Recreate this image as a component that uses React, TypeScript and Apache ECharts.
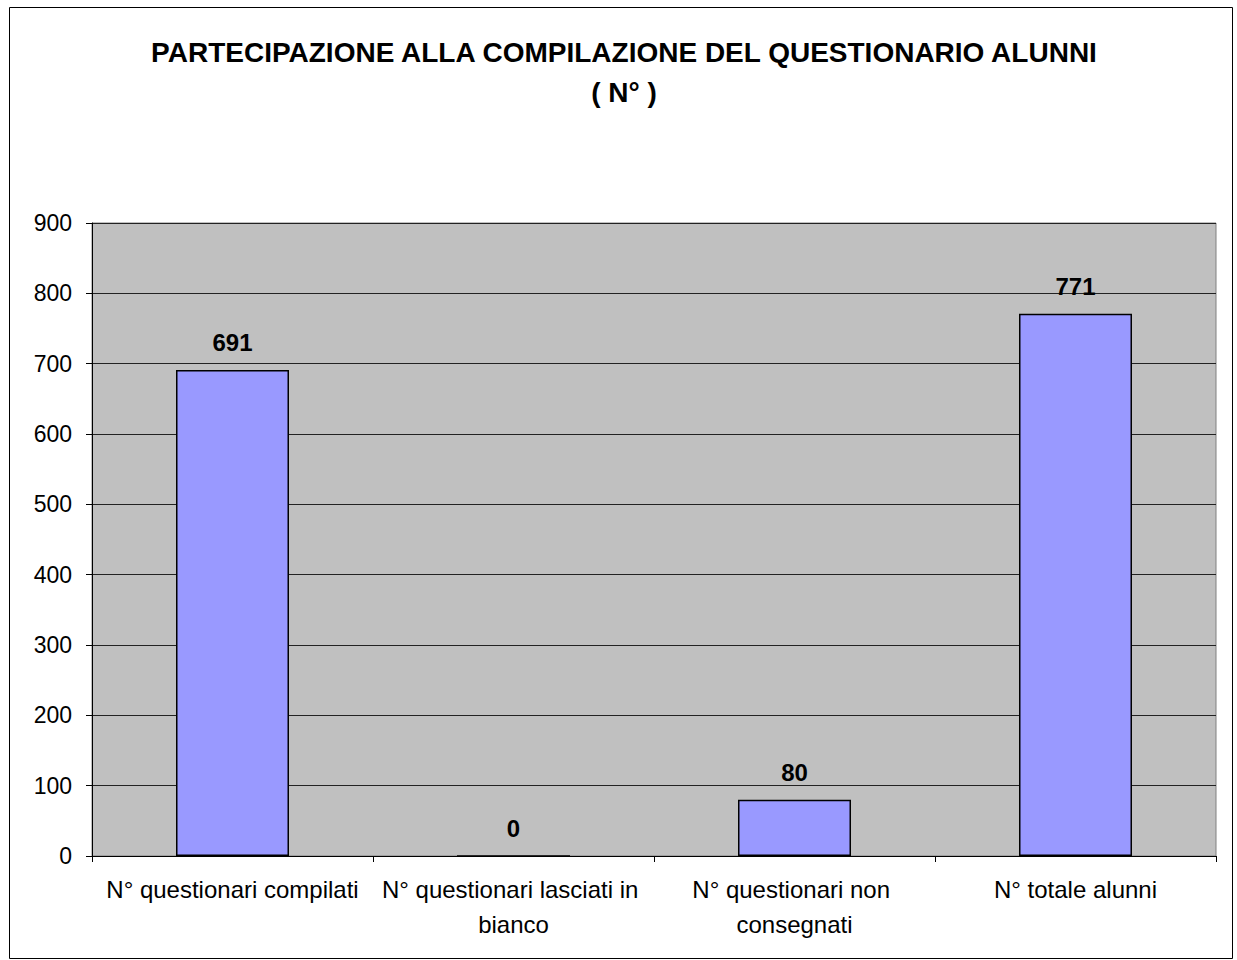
import React, { useEffect, useRef } from "react";
import * as echarts from "echarts";

const titleLines = ["PARTECIPAZIONE ALLA COMPILAZIONE DEL QUESTIONARIO ALUNNI", "( N° )"];
const categories = [
  "N° questionari compilati",
  "N° questionari lasciati in bianco",
  "N° questionari non consegnati",
  "N° totale alunni",
];
const values = [691, 0, 80, 771];
const yMin = 0;
const yMax = 900;
const yStep = 100;

const FONT = "'Liberation Sans', Arial, sans-serif";

export default function App() {
  const ref = useRef<HTMLDivElement>(null);
  useEffect(() => {
    if (!ref.current) return;
    const chart = echarts.init(ref.current, undefined, { renderer: "svg" });
    chart.setOption({
      animation: false,
      backgroundColor: "#ffffff",
      textStyle: { fontFamily: FONT },
      title: {
        text: titleLines.join("\n"),
        left: 619,
        top: 27,
        textAlign: "center",
        textStyle: {
          fontFamily: FONT,
          fontWeight: "bold",
          fontSize: 28,
          lineHeight: 40,
          color: "#000",
        },
      },
      graphic: [
        {
          type: "rect",
          shape: { x: 9.5, y: 7.5, width: 1223, height: 951 },
          style: { fill: "none", stroke: "#000", lineWidth: 1 },
          silent: true,
        },
      ],
      grid: {
        left: 92,
        top: 223,
        right: 21,
        bottom: 104,
        show: true,
        backgroundColor: "#C0C0C0",
        borderColor: "#808080",
        borderWidth: 1,
      },
      xAxis: {
        type: "category",
        data: categories,
        axisLine: { show: true, lineStyle: { color: "#000", width: 1 } },
        axisTick: { show: true, length: 6, lineStyle: { color: "#000" } },
        axisLabel: {
          color: "#000",
          fontFamily: FONT,
          fontSize: 24,
          margin: 16,
          lineHeight: 35,
          width: 280,
          overflow: "break",
          interval: 0,
        },
      },
      yAxis: {
        type: "value",
        min: yMin,
        max: yMax,
        interval: yStep,
        axisLine: { show: true, lineStyle: { color: "#000", width: 1 } },
        axisTick: { show: true, length: 6, lineStyle: { color: "#000" } },
        axisLabel: { color: "#000", fontFamily: FONT, fontSize: 23, margin: 20 },
        splitLine: { show: true, lineStyle: { color: "#222", width: 1 } },
      },
      series: [
        {
          type: "bar",
          data: values,
          barWidth: 113,
          itemStyle: { color: "#9999FF", borderColor: "#000", borderWidth: 1.5 },
          label: {
            show: true,
            position: "top",
            distance: 15,
            color: "#000",
            fontFamily: FONT,
            fontWeight: "bold",
            fontSize: 24,
          },
        },
      ],
    });
    return () => chart.dispose();
  }, []);
  return (
    <div
      ref={ref}
      style={{ position: "absolute", left: 0, top: 0, width: 1237, height: 960 }}
    />
  );
}
